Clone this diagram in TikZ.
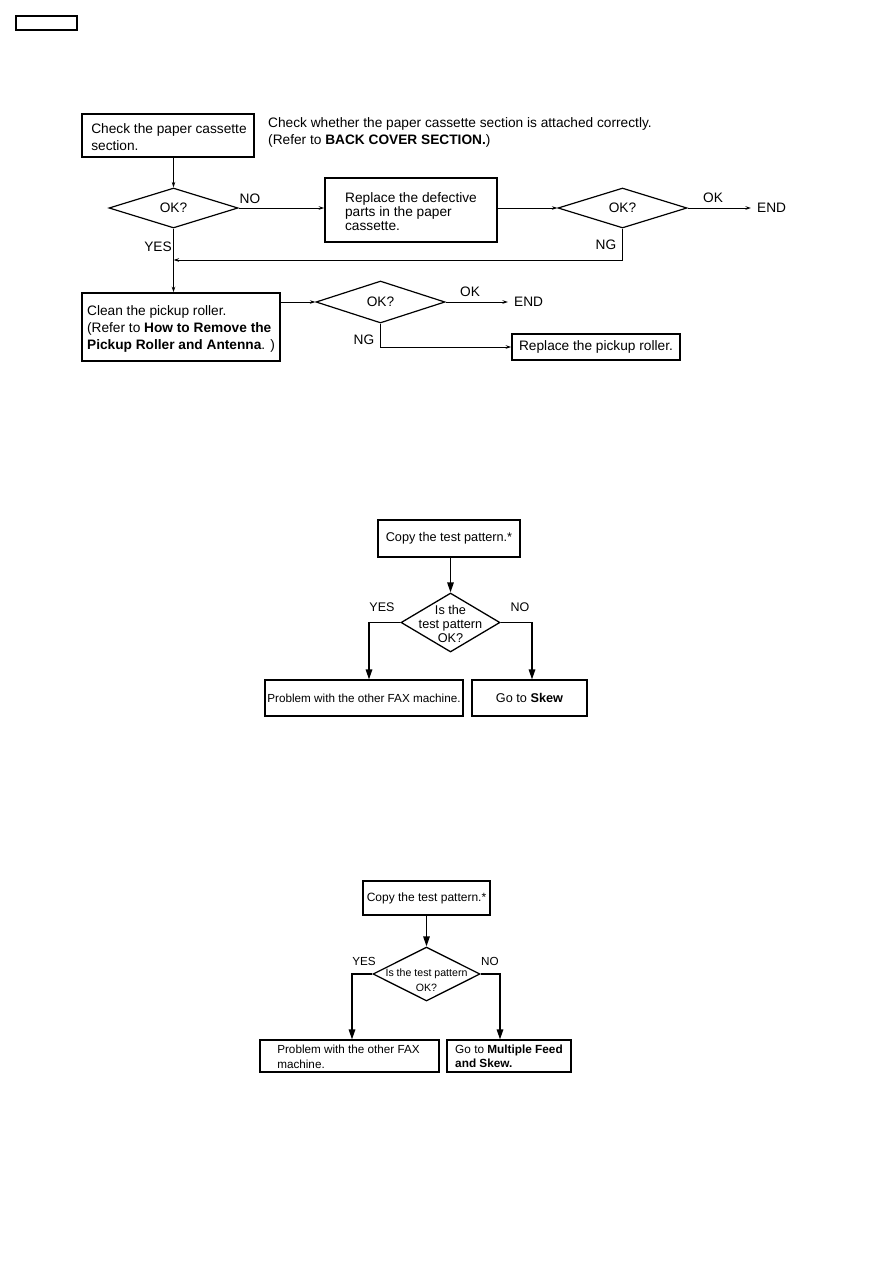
\documentclass[tikz,border=0pt]{standalone}
\usepackage{fontspec}
\setmainfont{Liberation Sans}
\usetikzlibrary{shapes.geometric,arrows.meta}
\begin{document}
\begin{tikzpicture}[x=1pt,y=-1pt,
 box/.style={draw, line width=1.5pt, align=left, inner sep=0pt, font=\fontsize{13.7}{17}\selectfont},
 dia/.style={draw, diamond, shape aspect=3, line width=1.2pt, inner sep=0pt, font=\fontsize{13.7}{17}\selectfont},
 lab/.style={font=\fontsize{13.7}{16}\selectfont, inner sep=0pt},
 con/.style={line width=0.9pt, -{Stealth[length=5.5pt,width=3.5pt]}},
 bbox/.style={draw, line width=1.2pt, align=left, inner sep=0pt},
 bdia/.style={draw, diamond, shape aspect=2, line width=1.3pt, inner sep=0pt},
 bcon/.style={line width=1.5pt, -{Triangle[length=10pt,width=6.5pt]}},
 blab/.style={inner sep=0pt, align=center}
]
\useasboundingbox (0,0) rectangle (893,1263);
\fill[white] (0,0) rectangle (893,1263);

% header box
\node[draw, line width=1.2pt, minimum width=61pt, minimum height=14pt, inner sep=0pt] (hdr) at (46.5,23) {};

% ---------- diagram 1 ----------
\node[box, minimum width=172pt, minimum height=43pt] (A) at (168,135.5) {};
\node[lab, align=left, font=\fontsize{13.7}{17}\selectfont] (At) at (169,137) {Check the paper cassette\\section.};
\node[lab, anchor=west, align=left, font=\fontsize{13.7}{17}\selectfont] (note) at (268,132)
  {Check whether the paper cassette section is attached correctly.\\(Refer to \textbf{BACK COVER SECTION.})};

\node[dia, minimum width=129pt, minimum height=40pt] (d1) at (173.5,208) {OK?};
\node[box, minimum width=172pt, minimum height=64pt] (B) at (411,210) {};
\node[lab, align=left, font=\fontsize{13.7}{14}\selectfont] (Bt) at (411,212) {Replace the defective\\parts in the paper\\cassette.};
\node[dia, minimum width=129pt, minimum height=40pt] (d2) at (622.5,208) {OK?};
\node[lab, anchor=west] (end1) at (757,208) {END};

\node[box, minimum width=198pt, minimum height=68pt] (C) at (181,327) {};
\node[lab, align=left, font=\fontsize{13.7}{17}\selectfont] (Ct) at (181,329)
  {Clean the pickup roller.\\(Refer to \textbf{How to Remove the}\\\textbf{Pickup Roller and Antenna}. )};
\node[dia, minimum width=129pt, minimum height=42pt] (d3) at (380.5,302) {OK?};
\node[lab, anchor=west] (end2) at (514,302) {END};
\node[box, minimum width=168pt, minimum height=26pt] (D) at (596,347) {Replace the pickup roller.};

\coordinate (m1) at (173.5,260);

\draw[con] (d1.north |- A.south) -- (d1.north);
\draw[con] (d1.east) -- (B.west |- d1.east);
\draw[con] (B.east |- d2.west) -- (d2.west);
\draw[con] (d2.east) -- ([xshift=-6pt]end1.west);
\draw[con] (d2.south) |- (m1);
\draw[con] (d1.south) -- (d1.south |- C.north);
\draw[con] (d3.west -| C.east) -- (d3.west);
\draw[con] (d3.east) -- ([xshift=-6pt]end2.west);
\draw[con] (d3.south) |- (D.west);

\node[lab] (l1) at (250,199) {NO};
\node[lab] (l2) at (158,247) {YES};
\node[lab] (l3) at (713,198) {OK};
\node[lab] (l4) at (606,245) {NG};
\node[lab] (l5) at (470,292) {OK};
\node[lab] (l6) at (364,340) {NG};

% ---------- diagram 2 ----------
\node[bbox, minimum width=142pt, minimum height=37pt, font=\fontsize{12.7}{15}\selectfont] (E) at (449,538.5) {Copy the test pattern.*};
\node[bdia, minimum width=99pt, minimum height=59pt] (d4) at (450.5,622.5) {};
\node[blab, font=\fontsize{12.7}{14}\selectfont] (d4t) at (450.5,624) {Is the\\test pattern\\OK?};
\node[bbox, minimum width=198pt, minimum height=36pt, font=\fontsize{11.7}{14}\selectfont] (F) at (364,698) {Problem with the other FAX machine.};
\node[bbox, minimum width=115pt, minimum height=36pt, font=\fontsize{12.7}{15}\selectfont] (G) at (529.5,698) {Go to \textbf{Skew}};

\draw[bcon] (d4.north |- E.south) -- (d4.north);
\draw[bcon] (d4.west) -| ([xshift=5pt]F.north);
\draw[bcon] (d4.east) -| ([xshift=2.5pt]G.north);

\node[blab, font=\fontsize{12.5}{15}\selectfont] (l7) at (382,607) {YES};
\node[blab, font=\fontsize{12.5}{15}\selectfont] (l8) at (520,607) {NO};

% ---------- diagram 3 ----------
\node[bbox, minimum width=127pt, minimum height=34pt, font=\fontsize{12}{14}\selectfont] (H) at (426.5,898) {Copy the test pattern.*};
\node[bdia, minimum width=107pt, minimum height=54pt] (d5) at (426.5,974) {};
\node[blab, font=\fontsize{10.6}{15}\selectfont] (d5t) at (426.5,980) {Is the test pattern\\OK?};
\node[bbox, minimum width=179pt, minimum height=32pt] (I) at (349.5,1056) {};
\node[blab, align=left, font=\fontsize{11.7}{14.5}\selectfont] (It) at (348.5,1057) {Problem with the other FAX\\machine.};
\node[bbox, minimum width=124pt, minimum height=32pt, font=\fontsize{11.8}{14}\selectfont] (J) at (509,1056) {Go to \textbf{Multiple Feed}\\\textbf{and Skew.}};

\draw[bcon] (d5.north |- H.south) -- (d5.north);
\draw[bcon] (d5.west) -| ([xshift=2.5pt]I.north);
\draw[bcon] (d5.east) -| ([xshift=-9pt]J.north);

\node[blab, font=\fontsize{11.7}{14}\selectfont] (l9) at (364,961) {YES};
\node[blab, font=\fontsize{11.7}{14}\selectfont] (l10) at (490,961) {NO};
\end{tikzpicture}
\end{document}
